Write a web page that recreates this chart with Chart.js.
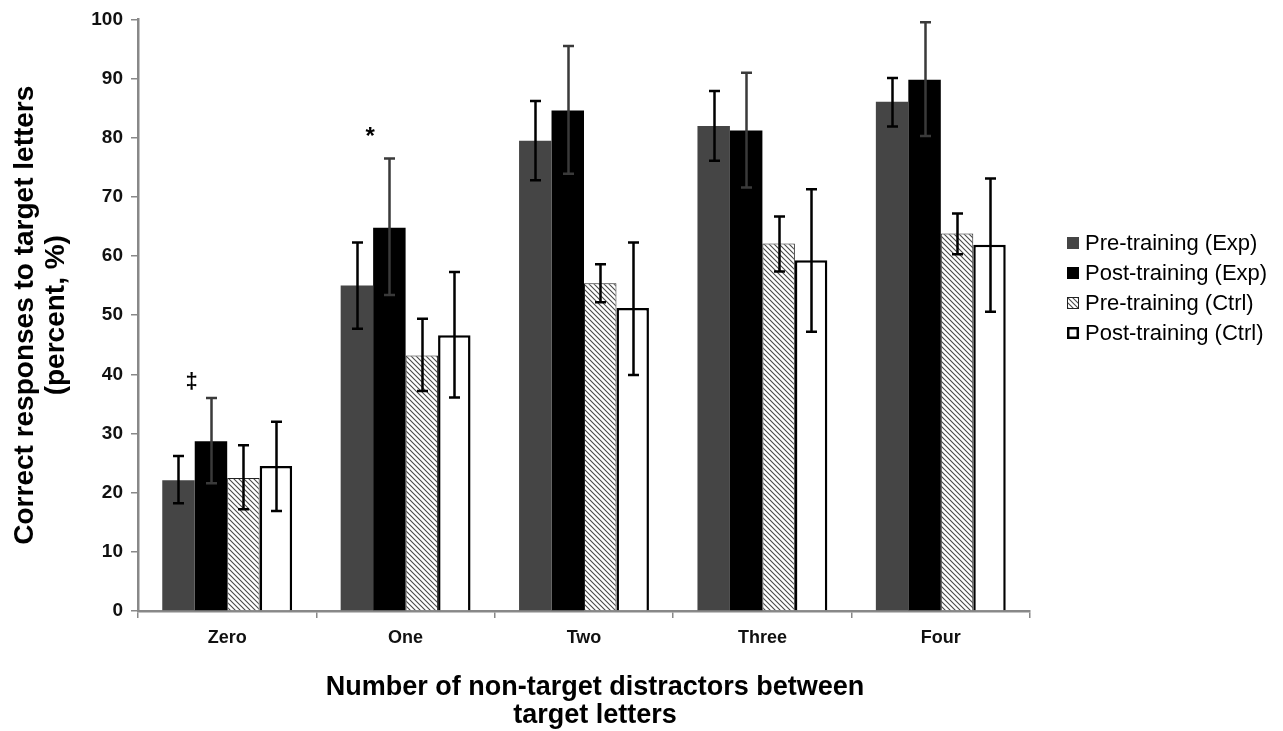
<!DOCTYPE html>
<html>
<head>
<meta charset="utf-8">
<script src="https://cdn.jsdelivr.net/npm/chart.js@4/dist/chart.umd.min.js"></script>
<style>
  html, body { margin: 0; padding: 0; background: #fff; }
  #wrap { width: 1283px; height: 731px; position: relative; }
</style>
</head>
<body>
<div id="wrap"><canvas id="c" width="1283" height="731"></canvas></div>
<script>
const categories = ['Zero', 'One', 'Two', 'Three', 'Four'];
const seriesNames = ['Pre-training (Exp)', 'Post-training (Exp)', 'Pre-training (Ctrl)', 'Post-training (Ctrl)'];

const preExp      = [22.1, 55.0, 79.5, 82.0, 86.1];
const preExpLow   = [18.2, 47.7, 72.8, 76.1, 81.9];
const preExpHigh  = [26.2, 62.3, 86.2, 87.9, 90.1];

const postExp     = [28.7, 64.8, 84.6, 81.2, 89.8];
const postExpLow  = [21.6, 53.4, 73.9, 71.6, 80.3];
const postExpHigh = [36.0, 76.5, 95.5, 91.0, 99.5];

const preCtrl     = [22.5, 43.2, 55.4, 62.1, 63.8];
const preCtrlLow  = [17.2, 37.2, 52.2, 57.4, 60.3];
const preCtrlHigh = [28.0, 49.4, 58.6, 66.7, 67.2];

const postCtrl     = [24.5, 46.6, 51.2, 59.3, 61.9];
const postCtrlLow  = [16.9, 36.1, 39.9, 47.2, 50.6];
const postCtrlHigh = [32.0, 57.3, 62.3, 71.3, 73.1];

const yTicks = [0, 10, 20, 30, 40, 50, 60, 70, 80, 90, 100];

const xTitleLines = ['Number of non-target distractors between', 'target letters'];
const yTitleLines = ['Correct responses to target letters', '(percent, %)'];

// significance marks above the Post-training (Exp) bars
const sigMarks  = ['‡', '*', '', '', ''];
const sigValues = [38.8, 80.8, null, null, null];

function makeHatch() {
  const s = 5;
  const t = document.createElement('canvas');
  t.width = s; t.height = s;
  const g = t.getContext('2d');
  g.fillStyle = '#ffffff';
  g.fillRect(0, 0, s, s);
  g.strokeStyle = '#4a4a4a';
  g.lineWidth = 1.1;
  g.beginPath();
  g.moveTo(-1, -1); g.lineTo(s + 1, s + 1);
  g.moveTo(-1, s - 1); g.lineTo(1, s + 1);
  g.moveTo(s - 1, -1); g.lineTo(s + 1, 1);
  g.stroke();
  return document.getElementById('c').getContext('2d').createPattern(t, 'repeat');
}
const hatch = makeHatch();

const errLow  = [preExpLow, postExpLow, preCtrlLow, postCtrlLow];
const errHigh = [preExpHigh, postExpHigh, preCtrlHigh, postCtrlHigh];
const errColors = ['#000000', '#3a3a3a', '#000000', '#000000'];

const errorBars = {
  id: 'errorBars',
  afterDatasetsDraw(chart) {
    const ctx = chart.ctx;
    const y = chart.scales.y;
    chart.data.datasets.forEach((ds, i) => {
      const meta = chart.getDatasetMeta(i);
      meta.data.forEach((bar, j) => {
        const x = Math.round(bar.x) + 0.5;
        const yl = y.getPixelForValue(errLow[i][j]);
        const yh = y.getPixelForValue(errHigh[i][j]);
        ctx.save();
        ctx.strokeStyle = errColors[i];
        ctx.lineWidth = 2.5;
        ctx.beginPath();
        ctx.moveTo(x, yl); ctx.lineTo(x, yh);
        ctx.moveTo(x - 5.5, yl); ctx.lineTo(x + 5.5, yl);
        ctx.moveTo(x - 5.5, yh); ctx.lineTo(x + 5.5, yh);
        ctx.stroke();
        ctx.restore();
      });
    });
    // significance marks
    const meta1 = chart.getDatasetMeta(1);
    ctx.save();
    ctx.fillStyle = '#000';
    ctx.textAlign = 'center';
    ctx.textBaseline = 'middle';
    sigMarks.forEach((m, j) => {
      if (!m) return;
      const bar = meta1.data[j];
      ctx.font = (m === '*' ? 'bold 24px' : 'bold 22px') + ' "Liberation Sans", Arial, sans-serif';
      ctx.fillText(m, bar.x - bar.width / 2 - 3, y.getPixelForValue(sigValues[j]) + (m === '*' ? 4 : 0));
    });
    ctx.restore();
  }
};

const xTitle = {
  id: 'xTitle',
  afterDraw(chart) {
    const ctx = chart.ctx;
    const a = chart.chartArea;
    const cx = (a.left + a.right) / 2 + 11;
    ctx.save();
    ctx.fillStyle = '#000';
    ctx.font = 'bold 27px "Liberation Sans", Arial, sans-serif';
    ctx.textAlign = 'center';
    ctx.textBaseline = 'middle';
    xTitleLines.forEach((t, i) => ctx.fillText(t, cx, a.bottom + 77 + i * 28));
    ctx.restore();
  }
};

const customLegend = {
  id: 'customLegend',
  afterDraw(chart) {
    const ctx = chart.ctx;
    const x0 = 1067, y0 = 243, step = 30, box = 12;
    ctx.save();
    ctx.font = '22px "Liberation Sans", Arial, sans-serif';
    ctx.textBaseline = 'middle';
    ctx.textAlign = 'left';
    chart.data.datasets.forEach((ds, i) => {
      const cy = y0 + i * step;
      ctx.fillStyle = ds.backgroundColor;
      ctx.fillRect(x0, cy - box / 2, box, box);
      if (ds.borderWidth) {
        ctx.strokeStyle = ds.borderColor;
        ctx.lineWidth = ds.borderWidth;
        const hw = ds.borderWidth / 2;
        ctx.strokeRect(x0 + hw, cy - box / 2 + hw, box - ds.borderWidth, box - ds.borderWidth);
      }
      ctx.fillStyle = '#000';
      ctx.fillText(ds.label, x0 + 18, cy + 1);
    });
    ctx.restore();
  }
};

const axisFont = { family: '"Liberation Sans", Arial, sans-serif', weight: 'bold', size: 18 };

new Chart(document.getElementById('c'), {
  type: 'bar',
  data: {
    labels: categories,
    datasets: [
      { label: seriesNames[0], data: preExp,  backgroundColor: '#454545', borderWidth: 0 },
      { label: seriesNames[1], data: postExp, backgroundColor: '#000000', borderWidth: 0 },
      { label: seriesNames[2], data: preCtrl, backgroundColor: hatch, borderColor: '#222222', borderWidth: 1 },
      { label: seriesNames[3], data: postCtrl, backgroundColor: '#ffffff', borderColor: '#000000', borderWidth: 2.5 }
    ]
  },
  options: {
    responsive: false,
    animation: false,
    devicePixelRatio: 1,
    layout: { padding: { top: 18, right: 253, left: 0, bottom: 0 } },
    datasets: { bar: { categoryPercentage: 0.728, barPercentage: 1.0 } },
    plugins: {
      legend: { display: false },
      tooltip: { enabled: false },
      title: { display: false }
    },
    scales: {
      x: {
        grid: { offset: true, drawOnChartArea: false, drawTicks: true, tickLength: 7, color: '#888888', lineWidth: 1.5 },
        border: { display: true, color: '#888888', width: 2.5 },
        ticks: { color: '#111', font: axisFont, padding: 9, maxRotation: 0 },
        title: { display: false },
        afterFit(scale) { scale.height = 120; }
      },
      y: {
        min: 0, max: 100,
        afterBuildTicks(scale) { scale.ticks = yTicks.map(v => ({ value: v })); },
        grid: { drawOnChartArea: false, drawTicks: true, tickLength: 7, color: '#888888', lineWidth: 1.5 },
        border: { display: true, color: '#888888', width: 2.5 },
        ticks: { color: '#111', font: { family: '"Liberation Sans", Arial, sans-serif', weight: 'bold', size: 19 }, padding: 8 },
        title: {
          display: true,
          text: yTitleLines,
          color: '#000',
          font: { family: '"Liberation Sans", Arial, sans-serif', weight: 'bold', size: 28, lineHeight: 1.1 },
          padding: { top: 10, bottom: 0 }
        },
        afterFit(scale) { scale.width = 138; }
      }
    }
  },
  plugins: [errorBars, xTitle, customLegend]
});
</script>
</body>
</html>
